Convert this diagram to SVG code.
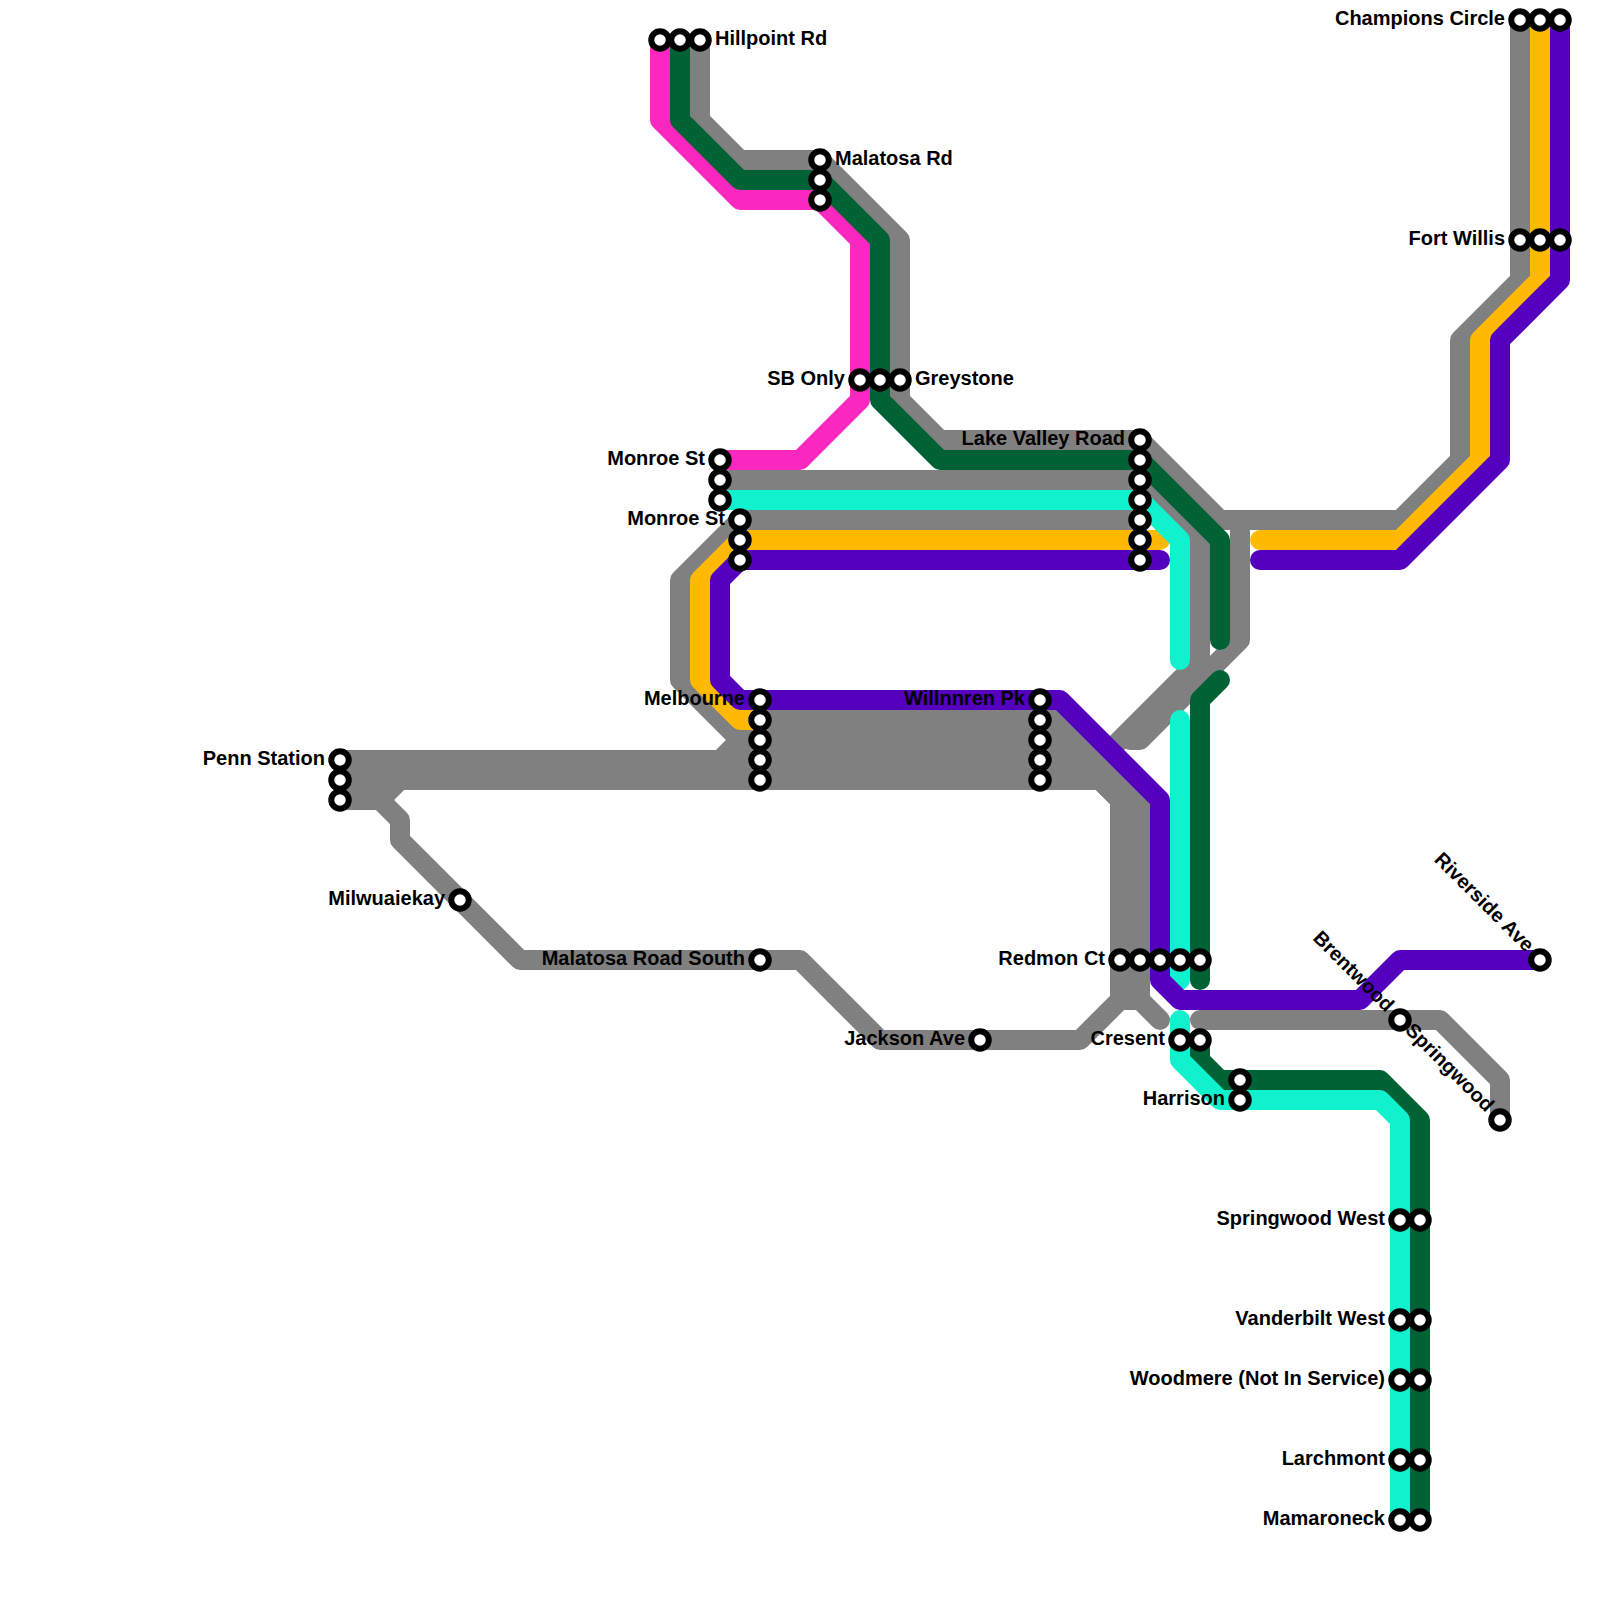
<svg xmlns="http://www.w3.org/2000/svg" width="1600" height="1600" viewBox="0 0 1600 1600">
<style>
.l{fill:none;stroke-width:20;stroke-linecap:round;stroke-linejoin:round}
.gray{stroke:#808080}.orange{stroke:#ffb900}.teal{stroke:#0ff2cd}.purple{stroke:#5500bf}.pink{stroke:#fa28be}.green{stroke:#016236}
.s{fill:#fff;stroke:#000;stroke-width:6}
text{font-family:"Liberation Sans",Arial,sans-serif;font-weight:700;font-size:20px;fill:#000}
.e{text-anchor:end}
</style>
<rect width="1600" height="1600" fill="#fff"/>
<g id="connectors">
<path class="l gray" d="M700 40V120L740 160H820L900 240V400L940 440H1140L1220 520H1400L1460 460V340L1520 280V20"/>
<path class="l gray" d="M1240 520V640L1140 740H1130"/>
<path class="l gray" d="M720 480H1140L1200 540V660L1110 750"/>
<path class="l gray" d="M740 520H1140"/>
<path class="l gray" d="M740 520L680 580V680L740 740"/>
<path class="l gray" d="M760 720H1060L1140 800V1000L1160 1020"/>
<path class="l gray" d="M340 760H720L740 740H1080L1120 780V800"/>
<path class="l gray" d="M720 760H1080L1120 800"/>
<path class="l gray" d="M340 780H1100L1120 800V1000L1080 1040H880L800 960H520L400 840V820L380 800H340"/>
<path class="l gray" d="M1120 1000H1140"/>
<path class="l gray" d="M380 800L400 780"/>
<path class="l gray" d="M1200 1020H1440L1500 1080V1120"/>
<path class="l orange" d="M1160 540H740L700 580V680L740 720H760"/>
<path class="l orange" d="M1260 540H1400L1480 460V340L1540 280V20"/>
<path class="l pink" d="M660 40V120L740 200H820L860 240V400L800 460H720"/>
<path class="l green" d="M680 40V120L740 180H820L880 240V400L940 460H1140L1220 540V640"/>
<path class="l green" d="M1220 680L1200 700V980"/>
<path class="l green" d="M1200 1040V1060L1220 1080H1380L1420 1120V1520"/>
<path class="l teal" d="M720 500H1140L1180 540V660"/>
<path class="l teal" d="M1180 720V980"/>
<path class="l teal" d="M1180 1020V1060L1220 1100H1380L1400 1120V1520"/>
<path class="l purple" d="M1160 560H740L720 580V680L740 700H1060L1160 800V980L1180 1000H1360L1400 960H1540"/>
<path class="l purple" d="M1260 560H1400L1500 460V340L1560 280V20"/>
</g>
<g id="hillpoint"><text x="715" y="45">Hillpoint Rd</text><circle class="s" cx="660" cy="40" r="8.75"/><circle class="s" cx="680" cy="40" r="8.75"/><circle class="s" cx="700" cy="40" r="8.75"/></g>
<g id="malatosa-rd"><text x="835" y="165">Malatosa Rd</text><circle class="s" cx="820" cy="160" r="8.75"/><circle class="s" cx="820" cy="180" r="8.75"/><circle class="s" cx="820" cy="200" r="8.75"/></g>
<g id="sb-only"><text class="e" x="845" y="385">SB Only</text><circle class="s" cx="860" cy="380" r="8.75"/></g>
<g id="greystone"><text x="915" y="385">Greystone</text><circle class="s" cx="880" cy="380" r="8.75"/><circle class="s" cx="900" cy="380" r="8.75"/></g>
<g id="monroe-1"><text class="e" x="705" y="465">Monroe St</text><circle class="s" cx="720" cy="460" r="8.75"/><circle class="s" cx="720" cy="480" r="8.75"/><circle class="s" cx="720" cy="500" r="8.75"/></g>
<g id="monroe-2"><text class="e" x="725" y="525">Monroe St</text><circle class="s" cx="740" cy="520" r="8.75"/><circle class="s" cx="740" cy="540" r="8.75"/><circle class="s" cx="740" cy="560" r="8.75"/></g>
<g id="lake-valley"><text class="e" x="1125" y="445">Lake Valley Road</text><circle class="s" cx="1140" cy="440" r="8.75"/><circle class="s" cx="1140" cy="460" r="8.75"/><circle class="s" cx="1140" cy="480" r="8.75"/><circle class="s" cx="1140" cy="500" r="8.75"/><circle class="s" cx="1140" cy="520" r="8.75"/><circle class="s" cx="1140" cy="540" r="8.75"/><circle class="s" cx="1140" cy="560" r="8.75"/></g>
<g id="melbourne"><text class="e" x="745" y="705">Melbourne</text><circle class="s" cx="760" cy="700" r="8.75"/><circle class="s" cx="760" cy="720" r="8.75"/><circle class="s" cx="760" cy="740" r="8.75"/><circle class="s" cx="760" cy="760" r="8.75"/><circle class="s" cx="760" cy="780" r="8.75"/></g>
<g id="willnnren"><text class="e" x="1025" y="705">Willnnren Pk</text><circle class="s" cx="1040" cy="700" r="8.75"/><circle class="s" cx="1040" cy="720" r="8.75"/><circle class="s" cx="1040" cy="740" r="8.75"/><circle class="s" cx="1040" cy="760" r="8.75"/><circle class="s" cx="1040" cy="780" r="8.75"/></g>
<g id="penn"><text class="e" x="325" y="765">Penn Station</text><circle class="s" cx="340" cy="760" r="8.75"/><circle class="s" cx="340" cy="780" r="8.75"/><circle class="s" cx="340" cy="800" r="8.75"/></g>
<g id="milwuaiekay"><text class="e" x="445" y="905">Milwuaiekay</text><circle class="s" cx="460" cy="900" r="8.75"/></g>
<g id="malatosa-south"><text class="e" x="745" y="965">Malatosa Road South</text><circle class="s" cx="760" cy="960" r="8.75"/></g>
<g id="jackson"><text class="e" x="965" y="1045">Jackson Ave</text><circle class="s" cx="980" cy="1040" r="8.75"/></g>
<g id="redmon"><text class="e" x="1105" y="965">Redmon Ct</text><circle class="s" cx="1120" cy="960" r="8.75"/><circle class="s" cx="1140" cy="960" r="8.75"/><circle class="s" cx="1160" cy="960" r="8.75"/><circle class="s" cx="1180" cy="960" r="8.75"/><circle class="s" cx="1200" cy="960" r="8.75"/></g>
<g id="cresent"><text class="e" x="1165" y="1045">Cresent</text><circle class="s" cx="1180" cy="1040" r="8.75"/><circle class="s" cx="1200" cy="1040" r="8.75"/></g>
<g id="harrison"><text class="e" x="1225" y="1105">Harrison</text><circle class="s" cx="1240" cy="1080" r="8.75"/><circle class="s" cx="1240" cy="1100" r="8.75"/></g>
<g id="brentwood"><text class="e" transform="translate(1400 1020) rotate(45)" x="-15" y="5">Brentwood</text><circle class="s" cx="1400" cy="1020" r="8.75"/></g>
<g id="riverside"><text class="e" transform="translate(1540 960) rotate(45)" x="-15" y="5">Riverside Ave</text><circle class="s" cx="1540" cy="960" r="8.75"/></g>
<g id="springwood"><text class="e" transform="translate(1500 1120) rotate(45)" x="-15" y="5">Springwood</text><circle class="s" cx="1500" cy="1120" r="8.75"/></g>
<g id="champions"><text class="e" x="1505" y="25">Champions Circle</text><circle class="s" cx="1520" cy="20" r="8.75"/><circle class="s" cx="1540" cy="20" r="8.75"/><circle class="s" cx="1560" cy="20" r="8.75"/></g>
<g id="fort-willis"><text class="e" x="1505" y="245">Fort Willis</text><circle class="s" cx="1520" cy="240" r="8.75"/><circle class="s" cx="1540" cy="240" r="8.75"/><circle class="s" cx="1560" cy="240" r="8.75"/></g>
<g id="springwood-west"><text class="e" x="1385" y="1225">Springwood West</text><circle class="s" cx="1400" cy="1220" r="8.75"/><circle class="s" cx="1420" cy="1220" r="8.75"/></g>
<g id="vanderbilt"><text class="e" x="1385" y="1325">Vanderbilt West</text><circle class="s" cx="1400" cy="1320" r="8.75"/><circle class="s" cx="1420" cy="1320" r="8.75"/></g>
<g id="woodmere"><text class="e" x="1385" y="1385">Woodmere (Not In Service)</text><circle class="s" cx="1400" cy="1380" r="8.75"/><circle class="s" cx="1420" cy="1380" r="8.75"/></g>
<g id="larchmont"><text class="e" x="1385" y="1465">Larchmont</text><circle class="s" cx="1400" cy="1460" r="8.75"/><circle class="s" cx="1420" cy="1460" r="8.75"/></g>
<g id="mamaroneck"><text class="e" x="1385" y="1525">Mamaroneck</text><circle class="s" cx="1400" cy="1520" r="8.75"/><circle class="s" cx="1420" cy="1520" r="8.75"/></g>
</svg>
